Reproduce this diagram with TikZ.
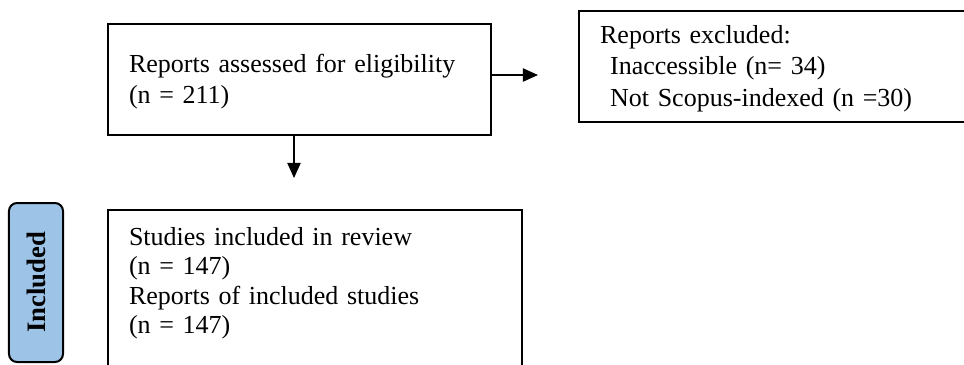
\documentclass[tikz,border=0pt]{standalone}
\usepackage{fontspec}
\setmainfont{Liberation Serif}
\usetikzlibrary{arrows.meta}
\definecolor{includedblue}{HTML}{9DC3E6}
\def\px{0.45pt}

\begin{document}
\begin{tikzpicture}[x=\px, y=-\px,
  box/.style={draw, line width=0.9pt, inner ysep=0pt, align=left, anchor=base west,
    font=\fontsize{11.7}{14.2}\selectfont},
  stage/.style={draw, line width=0.9pt, fill=includedblue, rounded corners=3.6pt,
    inner sep=0pt, minimum width=71.55pt, minimum height=24.3pt,
    font=\fontsize{12}{13.5}\selectfont\bfseries},
  flow/.style={line width=0.5pt, -{Triangle[length=6.8pt, width=6pt]}}]
\useasboundingbox (0,0) rectangle (964,364);

% ELIGIBILITY
\node[box, inner xsep=9.45pt, text width=153.45pt, text height=21.6pt, text depth=28.35pt,
  font=\fontsize{11.7}{14}\selectfont]
  (eligible) at (107,72) {Reports assessed for eligibility\\(n = 211)};
% excluded reports (box runs off the right edge)
\node[box, inner xsep=9.5pt, text width=171pt, text height=14.4pt, text depth=35.5pt]
  (excluded) at (578,43) {Reports excluded:\\
  \hspace*{4.5pt}Inaccessible (n= 34)\\
  \hspace*{4.5pt}Not Scopus-indexed (n =30)};

% INCLUDED
\node[stage, rotate=90] (included) at (36,282.5) {Included};
\node[box, inner xsep=9.45pt, text width=167.4pt, text height=15.75pt, text depth=69.75pt,
  font=\fontsize{11.7}{13.3}\selectfont]
  (studies) at (107,245) {Studies included in review\\(n = 147)\\
  Reports of included studies\\(n = 147)};

% arrows
\coordinate (excludedTip) at (538,75);
\coordinate (studiesTip) at (294,178);
\draw[flow] (eligible.east |- excludedTip) -- (excludedTip);
\draw[flow] (eligible.south -| studiesTip) -- (studiesTip);

\end{tikzpicture}
\end{document}
